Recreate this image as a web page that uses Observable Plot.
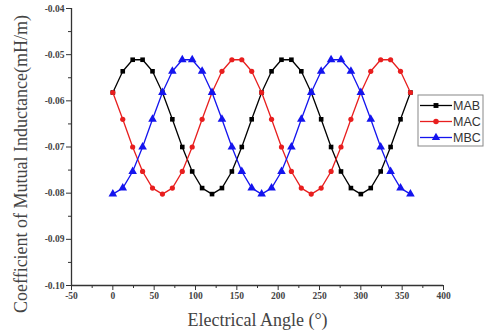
<!DOCTYPE html>
<html>
<head>
<meta charset="utf-8">
<script src="https://cdn.jsdelivr.net/npm/d3@7"></script>
<script src="https://cdn.jsdelivr.net/npm/@observablehq/plot@0.6"></script>
<style>
  html, body { margin: 0; padding: 0; background: #fff; }
  #wrap { position: relative; width: 490px; height: 334px; }
  #legend { position: absolute; left: 0; top: 0; }
</style>
</head>
<body>
<div id="wrap"></div>
<script>
// Electrical angle (degrees)
const angles = [0,12,24,36,48,60,72,84,96,108,120,132,144,156,168,180,192,204,216,228,240,252,264,276,288,300,312,324,336,348,360];

const MAB = [-0.0582,-0.0536,-0.0511,-0.0511,-0.0536,-0.0582,-0.0640,-0.0700,-0.0753,-0.0789,-0.0802,-0.0789,-0.0753,-0.0700,-0.0640,-0.0582,-0.0536,-0.0511,-0.0511,-0.0536,-0.0582,-0.0640,-0.0700,-0.0753,-0.0789,-0.0802,-0.0789,-0.0753,-0.0700,-0.0640,-0.0582];
const MAC = [-0.0582,-0.0640,-0.0700,-0.0753,-0.0789,-0.0802,-0.0789,-0.0753,-0.0700,-0.0640,-0.0582,-0.0536,-0.0511,-0.0511,-0.0536,-0.0582,-0.0640,-0.0700,-0.0753,-0.0789,-0.0802,-0.0789,-0.0753,-0.0700,-0.0640,-0.0582,-0.0536,-0.0511,-0.0511,-0.0536,-0.0582];
const MBC = [-0.0802,-0.0789,-0.0753,-0.0700,-0.0640,-0.0582,-0.0536,-0.0511,-0.0511,-0.0536,-0.0582,-0.0640,-0.0700,-0.0753,-0.0789,-0.0802,-0.0789,-0.0753,-0.0700,-0.0640,-0.0582,-0.0536,-0.0511,-0.0511,-0.0536,-0.0582,-0.0640,-0.0700,-0.0753,-0.0789,-0.0802];

const seriesNames = ["MAB", "MAC", "MBC"];
const seriesColors = ["#000000", "#e81e1e", "#1414ee"];
const seriesSymbols = ["square", "circle", "triangle"];

const xTicks = [-50,0,50,100,150,200,250,300,350,400];
const xMinor = [-25,25,75,125,175,225,275,325,375];
const yTicks = [-0.10,-0.09,-0.08,-0.07,-0.06,-0.05,-0.04];
const yMinor = [-0.095,-0.085,-0.075,-0.065,-0.055,-0.045];

const seriesValues = [MAB, MAC, MBC];
const rows = seriesNames.flatMap((name, i) =>
  angles.map((a, j) => ({series: name, angle: a, value: seriesValues[i][j]})));

const serif = "Liberation Serif, DejaVu Serif, serif";
const marks = [];
seriesNames.forEach((name, i) => {
  const d = rows.filter(r => r.series === name);
  marks.push(Plot.line(d, {x: "angle", y: "value", stroke: seriesColors[i], strokeWidth: 1.3}));
  marks.push(Plot.dot(d, {x: "angle", y: "value", fill: seriesColors[i], stroke: "none",
    symbol: () => seriesSymbols[i], r: seriesSymbols[i] === "triangle" ? 3.2 : 2.6}));
});

const chart = Plot.plot({
  width: 490,
  height: 334,
  marginLeft: 71,
  marginRight: 47,
  marginTop: 8,
  marginBottom: 49,
  style: {fontFamily: serif, background: "#fff", color: "#222"},
  x: {domain: [-50, 400], label: null},
  y: {domain: [-0.10, -0.04], label: null},
  marks: [
    Plot.axisX({ticks: xMinor, tickSize: 3, tickFormat: () => "", stroke: "#333", label: null}),
    Plot.axisX({ticks: xTicks, tickSize: 5, tickPadding: 2, tickFormat: d => String(d), fontSize: 9.5, fontWeight: "bold", fontFamily: serif, fill: "#444", stroke: "#333", label: null}),
    Plot.axisY({ticks: yMinor, tickSize: 3, tickFormat: () => "", stroke: "#333", label: null}),
    Plot.axisY({ticks: yTicks, tickSize: 5, tickPadding: 2, tickFormat: d => d.toFixed(2), fontSize: 9.5, fontWeight: "bold", fontFamily: serif, fill: "#444", stroke: "#333", label: null}),
    Plot.ruleX([-50], {stroke: "#333", strokeWidth: 1.3}),
    Plot.ruleY([-0.10], {stroke: "#333", strokeWidth: 1.3}),
    Plot.text(["Electrical Angle (°)"], {frameAnchor: "bottom", dy: 40, fontSize: 18, fill: "#444", fontFamily: serif}),
    Plot.text(["Coefficient of Mutual Inductance(mH/m)"], {frameAnchor: "left", textAnchor: "middle", dx: -50, dy: 17, rotate: -90, fontSize: 18, fill: "#444", fontFamily: serif}),
    ...marks
  ]
});

const wrap = document.getElementById("wrap");
wrap.appendChild(chart);

// Legend overlay
const leg = d3.select(wrap).append("svg")
  .attr("id", "legend").attr("width", 490).attr("height", 334);
const bx = 418, by = 95, bw = 65, bh = 51;
leg.append("rect").attr("x", bx).attr("y", by).attr("width", bw).attr("height", bh)
  .attr("fill", "#fff").attr("stroke", "#888").attr("stroke-width", 1);
seriesNames.forEach((name, i) => {
  const yy = by + 10.5 + i * 16;
  leg.append("line").attr("x1", bx + 2).attr("x2", bx + 34).attr("y1", yy).attr("y2", yy)
    .attr("stroke", seriesColors[i]).attr("stroke-width", 1.3);
  const sym = {square: d3.symbolSquare, circle: d3.symbolCircle, triangle: d3.symbolTriangle}[seriesSymbols[i]];
  leg.append("path").attr("d", d3.symbol(sym, seriesSymbols[i] === "triangle" ? 30 : 24)())
    .attr("transform", `translate(${bx + 18},${yy})`).attr("fill", seriesColors[i]);
  leg.append("text").attr("x", bx + 35).attr("y", yy).attr("dy", "0.35em")
    .attr("font-family", "Liberation Sans, Arial, sans-serif").attr("font-size", 12.5)
    .attr("fill", "#333").text(name);
});
</script>
</body>
</html>
